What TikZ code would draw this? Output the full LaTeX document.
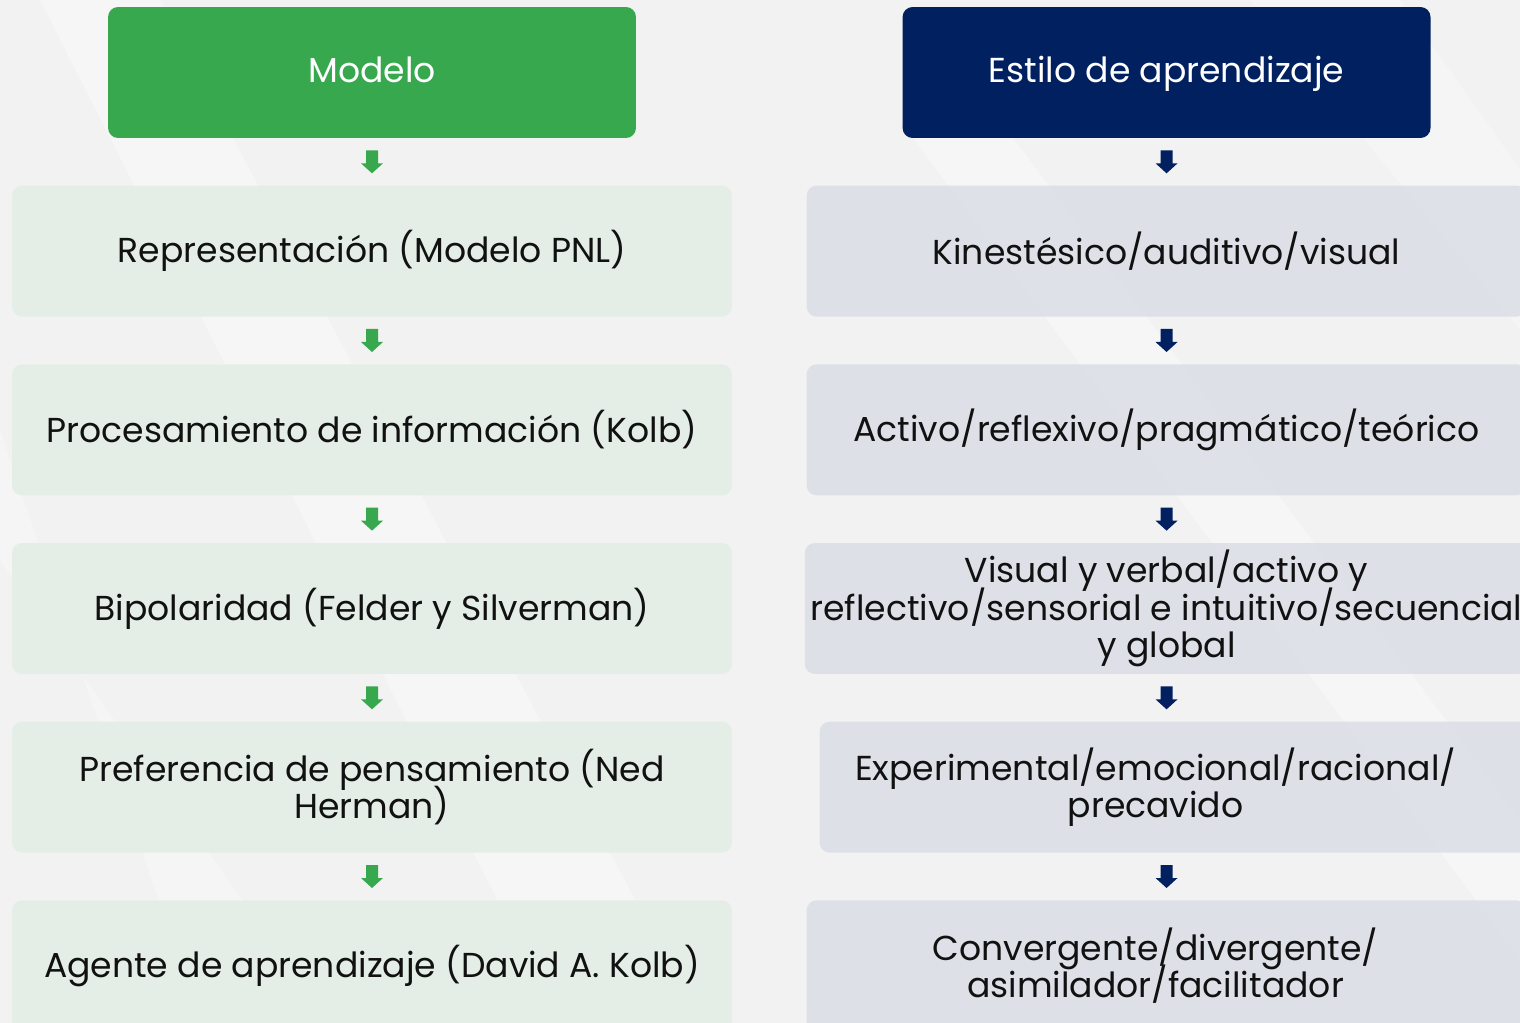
\documentclass[tikz,border=0pt]{standalone}
\usepackage{fontspec}
\setmainfont{Poppins}
\usetikzlibrary{positioning,calc}

\definecolor{verde}{HTML}{37A84E}
\definecolor{marino}{HTML}{002060}
\definecolor{verdeclaro}{HTML}{E4EEE7}
\definecolor{grisazul}{HTML}{DDE0E8}
\definecolor{fondo}{HTML}{F2F2F2}
\definecolor{tinta}{HTML}{111111}

% block arrow drawn at a coordinate
\newcommand{\flecha}[2]{\fill[#2, shift={(#1)}] (-6,-11.5) -- (6,-11.5) -- (6,1.5) -- (11,1.5) -- (0,11.5) -- (-11,1.5) -- (-6,1.5) -- cycle;}
\newcommand{\tipo}{\fontsize{19.7}{21.3}\selectfont\lineskiplimit-20pt\relax}

\begin{document}
\begin{tikzpicture}[x=0.02cm, y=-0.02cm, node distance=0.94cm,
    letra/.style={font=\tipo},
    cabeza/.style={rectangle, rounded corners=0.2cm, minimum width=10.56cm, minimum height=2.62cm, text=white, text height=0.5cm, text depth=0.08cm, letra},
    caja/.style={rectangle, rounded corners=0.2cm, minimum width=14.4cm, minimum height=2.62cm, inner ysep=0pt, align=center, text=tinta, letra},
    izq/.style={caja, fill=verdeclaro, fill opacity=0.95, text opacity=1},
    der/.style={caja, fill=grisazul, fill opacity=0.95, text opacity=1},
    rotulo/.style={align=center, text=tinta, letra}]
    \useasboundingbox (0,0) rectangle (1520,1023);
    \fill[fondo] (0,0) rectangle (1520,1023);
    % faint diagonal streaks in the background
    \fill[white, opacity=0.35] (40,0) -- (160,0) -- (700,1023) -- (560,1023) -- cycle;
    \fill[white, opacity=0.35] (900,120) -- (1000,120) -- (1520,820) -- (1520,960) -- cycle;
    \fill[white, opacity=0.3] (1250,0) -- (1400,0) -- (1520,170) -- (1520,330) -- cycle;
    \fill[white, opacity=0.3] (0,430) -- (0,560) -- (330,1023) -- (200,1023) -- cycle;

    \node[cabeza, fill=verde] (m0) at (372,72.5) {Modelo};
    \node[izq, below=of m0] (m1) {Representación (Modelo PNL)};
    \node[izq, below=of m1] (m2) {Procesamiento de información (Kolb)};
    \node[izq, below=of m2] (m3) {Bipolaridad (Felder y Silverman)};
    \node[izq, below=of m3] (m4) {Preferencia de pensamiento (Ned\\Herman)};
    \node[izq, below=of m4] (m5) {Agente de aprendizaje (David A. Kolb)};

    \node[cabeza, fill=marino, right=5.32cm of m0] (e0) {Estilo de aprendizaje};
    \node[der, below=of e0] (e1) {Kinestésico/auditivo/visual};
    \node[der, below=of e1] (e2) {Activo/reflexivo/pragmático/teórico};
    \node[der, below=of e2] (e3) {Visual y verbal/activo y\\reflectivo/sensorial e intuitivo/secuencial\\y global};
    \node[der, below=of e3, xshift=0.26cm,
        label={[rotulo, xshift=-0.48cm]center:Experimental/emocional/racional/\\precavido}] (e4) {};
    \node[der, below=of e4, xshift=-0.26cm,
        label={[rotulo, xshift=-0.22cm]center:Convergente/divergente/\\asimilador/facilitador}] (e5) {};

    \foreach \a/\b in {m0/m1, m1/m2, m2/m3, m3/m4, m4/m5}
        \flecha{$(\a.south)!0.5!(\b.north)$}{verde};
    \foreach \a/\b in {e0/e1, e1/e2, e2/e3}
        \flecha{$(\a.south)!0.5!(\b.north)$}{marino};
    \foreach \a/\b in {e3/e4, e4/e5}
        \flecha{$(\a.south)!0.5!(\b.north)+(-6.5,0)$}{marino};
\end{tikzpicture}
\end{document}
